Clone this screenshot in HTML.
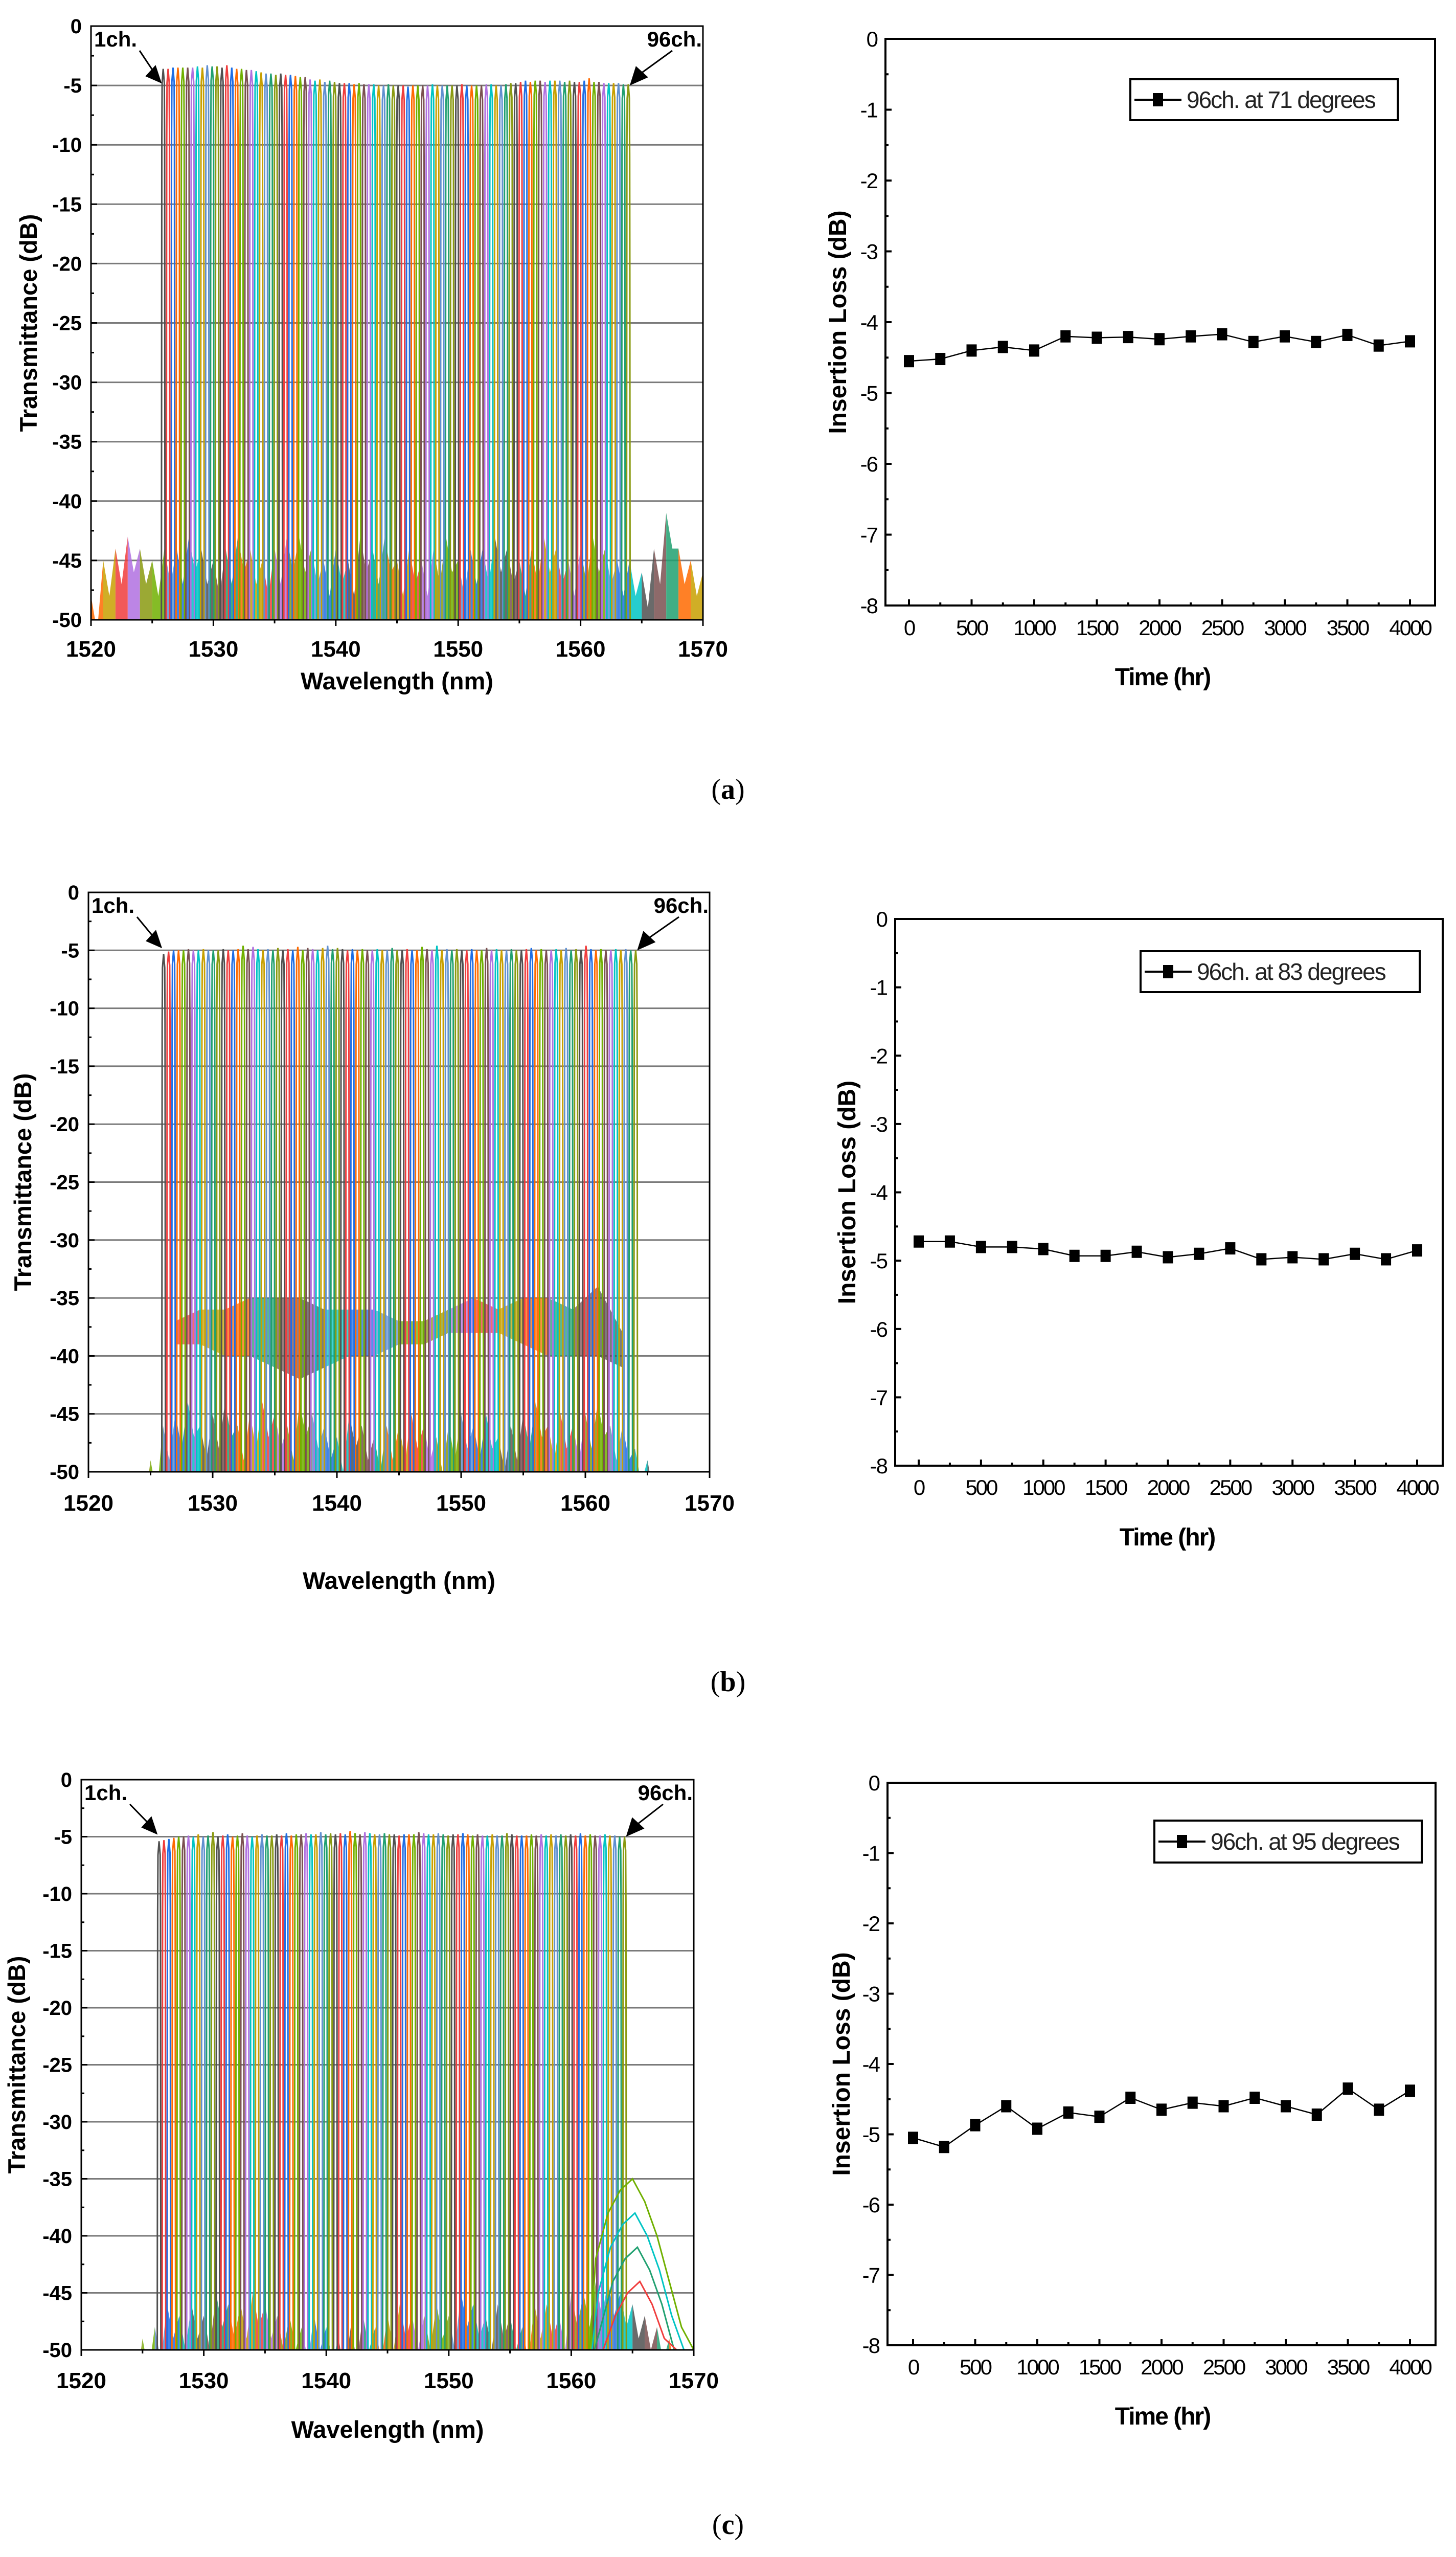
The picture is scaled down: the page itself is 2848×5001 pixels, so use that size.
<!DOCTYPE html>
<html><head><meta charset="utf-8"><title>96-channel transmittance and insertion loss</title>
<style>
html,body{margin:0;padding:0;background:#fff;width:2848px;height:5001px;overflow:hidden;position:relative;}
svg{display:block;position:absolute;left:0;top:0;overflow:hidden;}
text{font-family:"Liberation Sans",Arial,sans-serif;}
.cap{font-family:"Liberation Serif","Times New Roman",serif;}
</style></head>
<body>
<svg id="fig" xmlns="http://www.w3.org/2000/svg" width="2848" height="5001" viewBox="0 0 2848 5001">
<rect width="2848" height="5001" fill="#fff"/>
<text class="cap" x="1424" y="1562" font-size="56" text-anchor="middle">(<tspan font-weight="bold">a</tspan>)</text>
<text class="cap" x="1424" y="3307" font-size="56" text-anchor="middle">(<tspan font-weight="bold">b</tspan>)</text>
<text class="cap" x="1424" y="4955" font-size="56" text-anchor="middle">(<tspan font-weight="bold">c</tspan>)</text>
</svg>
<script>
// ---------- DATA ----------
const channelCenters = [1525.9,1526.3,1526.7,1527.1,1527.5,1527.9,1528.3,1528.7,1529.1,1529.5,
1529.9,1530.3,1530.7,1531.1,1531.5,1531.9,1532.3,1532.7,1533.1,1533.5,
1533.9,1534.3,1534.7,1535.1,1535.5,1535.9,1536.3,1536.7,1537.1,1537.5,
1537.9,1538.3,1538.7,1539.1,1539.5,1539.9,1540.3,1540.7,1541.1,1541.5,
1541.9,1542.3,1542.7,1543.1,1543.5,1543.9,1544.3,1544.7,1545.1,1545.5,
1545.9,1546.3,1546.7,1547.1,1547.5,1547.9,1548.3,1548.7,1549.1,1549.5,
1549.9,1550.3,1550.7,1551.1,1551.5,1551.9,1552.3,1552.7,1553.1,1553.5,
1553.9,1554.3,1554.7,1555.1,1555.5,1555.9,1556.3,1556.7,1557.1,1557.5,
1557.9,1558.3,1558.7,1559.1,1559.5,1559.9,1560.3,1560.7,1561.1,1561.5,
1561.9,1562.3,1562.7,1563.1,1563.5,1563.9];

const peaksA = [-3.6,-3.6,-3.5,-3.5,-3.5,-3.5,-3.5,-3.4,-3.5,-3.3,-3.4,-3.4,
-3.5,-3.3,-3.5,-3.6,-3.6,-3.7,-3.7,-3.8,-3.9,-4.0,-4.0,-4.1,
-4.0,-4.1,-4.1,-4.2,-4.3,-4.3,-4.5,-4.6,-4.5,-4.7,-4.6,-4.7,
-4.8,-4.8,-4.8,-4.9,-4.8,-4.9,-4.9,-4.9,-5.0,-5.0,-4.9,-5.0,
-5.0,-5.0,-5.1,-5.0,-5.0,-5.0,-5.0,-4.9,-5.0,-5.0,-5.0,-5.0,
-5.0,-4.9,-5.0,-5.0,-5.0,-5.0,-4.9,-4.9,-5.0,-5.0,-4.9,-4.8,
-4.8,-4.7,-4.6,-4.7,-4.6,-4.6,-4.7,-4.6,-4.6,-4.6,-4.7,-4.6,
-4.7,-4.7,-4.6,-4.4,-4.7,-4.7,-4.8,-4.8,-4.8,-4.8,-4.9,-4.9];
const peaksB = [-5.3,-5.1,-5.0,-5.0,-5.0,-4.9,-5.0,-5.0,-4.9,-5.0,-5.0,-5.0,
-4.9,-5.0,-5.0,-4.9,-4.6,-4.9,-4.7,-4.9,-5.0,-4.9,-5.0,-4.8,
-5.0,-4.9,-5.0,-4.7,-5.0,-4.8,-4.9,-5.0,-4.8,-4.6,-4.9,-4.8,
-4.9,-5.0,-4.9,-5.0,-4.9,-5.0,-5.0,-4.9,-5.0,-5.0,-4.8,-5.0,
-5.0,-4.9,-5.0,-5.0,-4.7,-4.9,-5.0,-4.6,-5.0,-4.9,-5.0,-4.9,
-5.0,-5.0,-4.9,-5.0,-5.0,-4.8,-5.0,-4.9,-5.0,-5.0,-4.9,-5.0,
-5.0,-4.9,-4.8,-5.0,-4.9,-5.0,-5.0,-4.9,-5.0,-4.8,-5.0,-4.9,
-5.0,-4.6,-4.9,-5.0,-4.9,-5.0,-5.0,-4.9,-5.0,-4.9,-5.0,-5.0];
const peaksC = [-5.4,-5.3,-5.2,-5.1,-5.0,-5.0,-4.9,-5.0,-4.8,-5.0,-4.9,-4.6,
-5.0,-4.9,-4.8,-5.0,-4.9,-4.7,-4.9,-5.0,-4.9,-4.8,-4.9,-4.9,
-4.8,-4.9,-4.7,-4.9,-4.8,-4.8,-4.7,-4.8,-4.8,-4.6,-4.8,-4.7,
-4.8,-4.7,-4.8,-4.5,-4.7,-4.8,-4.6,-4.7,-4.8,-4.8,-4.7,-4.8,
-4.8,-4.9,-4.8,-4.8,-4.8,-4.6,-4.7,-4.8,-4.8,-4.7,-4.8,-4.9,
-4.8,-4.8,-4.7,-4.8,-4.9,-4.8,-4.9,-4.9,-4.8,-4.9,-4.9,-4.7,
-4.8,-4.9,-4.9,-4.9,-4.8,-4.9,-4.8,-4.9,-4.8,-4.9,-4.8,-4.9,
-4.8,-4.9,-4.7,-4.9,-4.8,-4.9,-4.9,-4.8,-4.9,-4.9,-5.0,-5.0];

const profileOffset = [-0.15,-0.135,-0.125,-0.115,-0.09,0,0.09,0.115,0.125,0.135,0.15];
const profileRel = [-50,-32,-16,-6,-1.2,0,-1.2,-6,-16,-32,-50];

const floorWl = [1520,1521,1522,1523,1524,1525,1526,1527,1528,1529,1530,1531,1532,1533,1534,1535,1536,1537,1538,1539,1540,1541,1542,1543,1544,1545,1546,1547,1548,1549,1550,1551,1552,1553,1554,1555,1556,1557,1558,1559,1560,1561,1562,1563,1564,1565,1566,1567,1568,1569,1570];
const floorA = [-48,-45,-44,-43,-44,-45,-44,-44,-43,-44,-45,-44,-43,-44,-45,-44,-43,-43,-44,-45,-44,-45,-43,-44,-43,-45,-44,-45,-44,-43,-45,-44,-44,-43,-44,-45,-44,-43,-44,-45,-44,-43,-44,-45,-45,-46,-44,-41,-44,-45,-46];
const floorB = [-50,-50,-50,-50,-50,-49,-46,-45,-44,-46,-45,-44,-46,-45,-44,-45,-46,-44,-45,-46,-47,-45,-46,-47,-46,-46,-45,-46,-47,-46,-45,-46,-45,-47,-46,-45,-44,-46,-45,-46,-45,-44,-46,-46,-48,-49,-50,-50,-50,-50,-50];
const floorC = [-50,-50,-50,-50,-50,-49,-48,-46,-47,-46,-47,-45,-46,-46,-45,-46,-47,-47,-48,-47,-48,-49,-48,-47,-48,-47,-46,-47,-47,-46,-47,-45,-46,-47,-46,-47,-48,-46,-46,-47,-45,-45,-44,-44,-45,-46,-47,-48,-49,-50,-50];

const shoulderWl = [1527,1529,1531,1533,1535,1537,1539,1541,1543,1545,1547,1549,1551,1553,1555,1557,1559,1561,1563];
const shoulderTop = [-37,-36,-36,-35,-35,-35,-36,-36,-36,-37,-37,-36,-35,-36,-35,-35,-36,-34,-38];
const shoulderBottom = [-39,-39,-40,-40,-41,-42,-41,-40,-40,-39,-39,-38,-38,-38,-39,-40,-40,-40,-41];

const humpWl = [1561.5,1562,1563,1564,1565,1566,1567,1568,1569,1570];
const humpDb = [-50,-42,-38,-36,-35,-37,-40,-44,-48,-50];

const timeHr = [0,250,500,750,1000,1250,1500,1750,2000,2250,2500,2750,3000,3250,3500,3750,4000];
const lossA = [-4.55,-4.52,-4.40,-4.35,-4.40,-4.20,-4.22,-4.21,-4.24,-4.20,-4.17,-4.28,-4.20,-4.28,-4.18,-4.33,-4.27];
const lossB = [-4.72,-4.72,-4.80,-4.80,-4.83,-4.93,-4.93,-4.87,-4.95,-4.90,-4.82,-4.98,-4.95,-4.98,-4.90,-4.98,-4.85];
const lossC = [-5.05,-5.18,-4.87,-4.60,-4.92,-4.69,-4.75,-4.48,-4.65,-4.55,-4.60,-4.48,-4.60,-4.72,-4.35,-4.65,-4.38];
const lossLabels = ["96ch. at 71 degrees","96ch. at 83 degrees","96ch. at 95 degrees"];

const specXTicks = [1520,1530,1540,1550,1560,1570];
const specYTicks = [0,-5,-10,-15,-20,-25,-30,-35,-40,-45,-50];
const lossXTicks = [0,500,1000,1500,2000,2500,3000,3500,4000];
const lossYTicks = [0,-1,-2,-3,-4,-5,-6,-7,-8];

// ---------- RENDER ----------
const NS = "http://www.w3.org/2000/svg";
const svg = document.getElementById('fig');
const palette = ["#505050","#f03c3c","#1e6ee6","#ff6a00","#70b000","#7a5050","#b070e0","#00c4c4","#c8a000","#6090d0","#20a070","#8a9a10"];
function mk(tag, attrs, parent){
  const e = document.createElementNS(NS, tag);
  for (const k in attrs) e.setAttribute(k, attrs[k]);
  (parent||svg).appendChild(e);
  return e;
}

function drawSpectrum(p, peaks, floor, shift, extra){
  const g = mk('g', {});
  
  
  const xs = w => p.L + (w - 1520) / 50 * (p.R - p.L);
  const ys = v => p.T + (-v) / 50 * (p.B - p.T);
  const clipId = 'clip' + p.id;
  const cp = mk('clipPath', {id: clipId}, g);
  mk('rect', {x: p.L, y: p.T, width: p.R - p.L, height: p.B - p.T}, cp);
  specYTicks.forEach(v => {
    if (v === 0 || v === -50) return;
    const gl = mk('line', {x1: p.L, x2: p.R, y1: ys(v), y2: ys(v), stroke: '#7a7a7a', 'stroke-width': 3}, g);
    
    
  });
  const plot = mk('g', {'clip-path': 'url(#' + clipId + ')'}, g);
  for (let i = 0; i < floorWl.length - 1; i++) {
    const w0 = floorWl[i], w1 = floorWl[i+1];
    const pts = [[xs(w0), ys(-50)], [xs(w0), ys(floor[i])], [xs((w0+w1)/2), ys(floor[i]-3)], [xs(w1), ys(floor[i+1])], [xs(w1), ys(-50)]];
    const poly = mk('polygon', {points: pts.map(q => q.join(',')).join(' '), fill: palette[(i*5+3) % palette.length], opacity: 0.85}, plot);
    
    
  }
  if (extra === 'shoulder') {
    for (let i = 0; i < shoulderWl.length - 1; i++) {
      const pts = [[xs(shoulderWl[i]), ys(shoulderTop[i])], [xs(shoulderWl[i+1]), ys(shoulderTop[i+1])], [xs(shoulderWl[i+1]), ys(shoulderBottom[i+1])], [xs(shoulderWl[i]), ys(shoulderBottom[i])]];
      const poly = mk('polygon', {points: pts.map(q => q.join(',')).join(' '), fill: palette[(i*7+1) % palette.length], opacity: 0.75}, plot);
      
      
    }
  }
  channelCenters.forEach((c, i) => {
    const cc = c + shift;
    const last = profileRel.length - 1;
    const d = profileOffset.map((o, k) => {
      const v = (k === 0 || k === last) ? -50 : Math.max(-50, peaks[i] + profileRel[k]);
      return (k ? 'L' : 'M') + xs(cc + o).toFixed(1) + ',' + ys(v).toFixed(1);
    }).join(' ');
    const path = mk('path', {d: d, fill: 'none', stroke: palette[i % palette.length], 'stroke-width': 3}, plot);
    
    
  });
  if (extra === 'hump') {
    [0, -3, -6, -9].forEach((off, j) => {
      const d = humpWl.map((w, k) => (k ? 'L' : 'M') + xs(w + j*0.2) + ',' + ys(Math.max(-50, humpDb[k] + off))).join(' ');
      const pl = mk('path', {d: d, fill: 'none', stroke: palette[(j*3+4) % palette.length], 'stroke-width': 3}, plot);
      
      
    });
  }
  const fr = mk('rect', {x: p.L, y: p.T, width: p.R - p.L, height: p.B - p.T, fill: 'none', stroke: '#000', 'stroke-width': 3}, g);
  
  
  specYTicks.forEach(v => {
    mk('line', {x1: p.L, x2: p.L + 12, y1: ys(v), y2: ys(v), stroke: '#000', 'stroke-width': 3}, g);
    if (v > -50) mk('line', {x1: p.L, x2: p.L + 6, y1: ys(v - 2.5), y2: ys(v - 2.5), stroke: '#000', 'stroke-width': 3}, g);
    const t = mk('text', {x: p.L - 18, y: ys(v) + 14, 'font-size': 40, 'font-weight': 'bold', 'text-anchor': 'end'}, g);
    t.textContent = v;
    
    
  });
  specXTicks.forEach(v => {
    mk('line', {x1: xs(v), x2: xs(v), y1: p.B, y2: p.B + 12, stroke: '#000', 'stroke-width': 3}, g);
    if (v < 1570) mk('line', {x1: xs(v + 5), x2: xs(v + 5), y1: p.B, y2: p.B + 7, stroke: '#000', 'stroke-width': 3}, g);
    const t = mk('text', {x: xs(v), y: p.xl + 16, 'font-size': 44, 'font-weight': 'bold', 'text-anchor': 'middle'}, g);
    t.textContent = v;
    
    
  });
  const xt = mk('text', {x: (p.L + p.R) / 2, y: p.xt + 17, 'font-size': 47, 'font-weight': 'bold', 'text-anchor': 'middle'}, g);
  xt.textContent = 'Wavelength (nm)';
  
  
  const yc = (p.T + p.B) / 2;
  const yt = mk('text', {x: p.yt, y: yc, 'font-size': 47, 'font-weight': 'bold', 'text-anchor': 'middle', transform: 'rotate(-90 ' + p.yt + ' ' + yc + ') translate(0 17)'}, g);
  yt.textContent = 'Transmittance (dB)';
  
  
  const c1 = mk('text', {x: p.L + 6, y: p.T + 40, 'font-size': 42, 'font-weight': 'bold'}, g);
  c1.textContent = '1ch.';
  
  
  const c96 = mk('text', {x: p.R - 2, y: p.T + 40, 'font-size': 42, 'font-weight': 'bold', 'text-anchor': 'end'}, g);
  c96.textContent = '96ch.';
  
  
  const x1 = xs(channelCenters[0] + shift - 0.12), x96 = xs(channelCenters[95] + shift + 0.12), ya = ys(-5);
  const a1 = mk('g', {}, g);
  
  
  mk('line', {x1: p.L + 95, y1: p.T + 48, x2: x1 - 10, y2: ya - 18, stroke: '#000', 'stroke-width': 3}, a1);
  mk('polygon', {points: `${x1},${ya-4} ${x1-32},${ya-18} ${x1-12},${ya-40}`, fill: '#000'}, a1);
  const a2 = mk('g', {}, g);
  
  
  mk('line', {x1: p.R - 60, y1: p.T + 48, x2: x96 + 14, y2: ya - 18, stroke: '#000', 'stroke-width': 3}, a2);
  mk('polygon', {points: `${x96},${ya} ${x96+12},${ya-38} ${x96+36},${ya-16}`, fill: '#000'}, a2);
}

function drawLoss(p, values, label){
  const g = mk('g', {});
  
  
  const xs = t => p.x0 + t / 4000 * (p.x4 - p.x0);
  const ys = v => p.T + (-v) / 8 * (p.B - p.T);
  const fr = mk('rect', {x: p.L, y: p.T, width: p.R - p.L, height: p.B - p.T, fill: 'none', stroke: '#000', 'stroke-width': 4}, g);
  
  
  lossYTicks.forEach(v => {
    mk('line', {x1: p.L, x2: p.L + 12, y1: ys(v), y2: ys(v), stroke: '#000', 'stroke-width': 4}, g);
    if (v > -8) mk('line', {x1: p.L, x2: p.L + 6, y1: ys(v - 0.5), y2: ys(v - 0.5), stroke: '#000', 'stroke-width': 4}, g);
    const t = mk('text', {x: p.L - 16, y: ys(v) + 15, 'font-size': 42, 'text-anchor': 'end', 'letter-spacing': '-2'}, g);
    t.textContent = v;
    
    
  });
  timeHr.forEach(t => {
    const major = t % 500 === 0;
    mk('line', {x1: xs(t), x2: xs(t), y1: p.B, y2: p.B - (major ? 12 : 6), stroke: '#000', 'stroke-width': 4}, g);
  });
  lossXTicks.forEach(t => {
    const tx = mk('text', {x: xs(t), y: p.xl + 15, 'font-size': 42, 'text-anchor': 'middle', 'letter-spacing': '-3'}, g);
    tx.textContent = t;
    
    
  });
  const xt = mk('text', {x: p.xtx, y: p.xt + 17, 'font-size': 48, 'font-weight': 'bold', 'text-anchor': 'middle', 'letter-spacing': '-2'}, g);
  xt.textContent = 'Time (hr)';
  
  
  const yc = (p.T + p.B) / 2;
  const yt = mk('text', {x: p.yt, y: yc, 'font-size': 48, 'font-weight': 'bold', 'text-anchor': 'middle', transform: 'rotate(-90 ' + p.yt + ' ' + yc + ') translate(0 17)'}, g);
  yt.textContent = 'Insertion Loss (dB)';
  
  
  const line = mk('polyline', {points: timeHr.map((t, i) => xs(t) + ',' + ys(values[i])).join(' '), fill: 'none', stroke: '#000', 'stroke-width': 2.5}, g);
  
  
  timeHr.forEach((t, i) => {
    const m = mk('rect', {x: xs(t) - 10, y: ys(values[i]) - 12, width: 20, height: 24, fill: '#000'}, g);
    
    
  });
  const lg = mk('g', {}, g);
  
  
  const lb = p.lg;
  mk('rect', {x: lb[0], y: lb[1], width: lb[2] - lb[0], height: lb[3] - lb[1], fill: '#fff', stroke: '#000', 'stroke-width': 4}, lg);
  const my = (lb[1] + lb[3]) / 2;
  mk('line', {x1: lb[0] + 8, x2: lb[0] + 100, y1: my, y2: my, stroke: '#000', 'stroke-width': 4}, lg);
  mk('rect', {x: lb[0] + 44, y: my - 13, width: 20, height: 26, fill: '#000'}, lg);
  const lt = mk('text', {x: lb[0] + 110, y: my + 16, 'font-size': 46, 'letter-spacing': '-2', fill: '#222'}, lg);
  lt.textContent = label;
  
  
}

drawSpectrum({id:'a', L:178, R:1375, T:51, B:1212, xl:1268, xt:1331, yt:55}, peaksA, floorA, 0, null);
drawSpectrum({id:'b', L:173, R:1388, T:1745, B:2878, xl:2938, xt:3090, yt:44}, peaksB, floorB, 0.15, 'shoulder');
drawSpectrum({id:'c', L:159, R:1357, T:3480, B:4595, xl:4654, xt:4750, yt:32}, peaksC, floorC, 0.45, 'hump');

drawLoss({id:'a', L:1732, R:2807, T:76, B:1184, x0:1778, x4:2758, xl:1227, xt:1323, xtx:2274, yt:1638, lg:[2211,155,2734,235]}, lossA, lossLabels[0]);
drawLoss({id:'b', L:1751, R:2822, T:1797, B:2866, x0:1797, x4:2772, xl:2908, xt:3005, xtx:2283, yt:1656, lg:[2231,1860,2777,1940]}, lossB, lossLabels[1]);
drawLoss({id:'c', L:1736, R:2808, T:3486, B:4586, x0:1786, x4:2758, xl:4628, xt:4724, xtx:2274, yt:1645, lg:[2258,3560,2781,3642]}, lossC, lossLabels[2]);
</script>
</body></html>
